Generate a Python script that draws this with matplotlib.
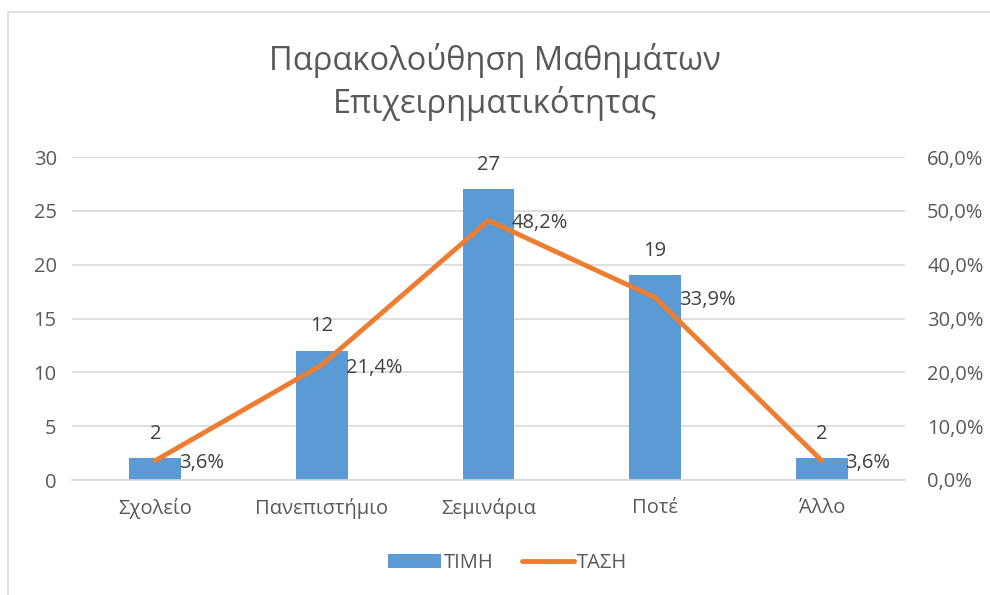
import numpy as np
import matplotlib.pyplot as plt
from matplotlib.patches import Rectangle

plt.rcParams['font.family'] = ['Open Sans', 'DejaVu Sans']

# Data
categories = ['Σχολείο', 'Πανεπιστήμιο', 'Σεμινάρια', 'Ποτέ', 'Άλλο']
values = [2, 12, 27, 19, 2]
shares = [0.036, 0.214, 0.482, 0.339, 0.036]

text_col = '#595959'
grid_col = '#D9D9D9'
bar_col = '#5B9BD5'
line_col = '#ED7D31'
fs = 14.5

fig = plt.figure(figsize=(9.9, 5.95), dpi=100)
fig.patches.append(Rectangle((8 / 990, -0.1), 1.1, 1 - 12 / 595 + 0.1,
                             transform=fig.transFigure, fill=False,
                             edgecolor=grid_col, linewidth=1.2))

ax = fig.add_axes([72 / 990, 1 - 480 / 595, (905 - 72) / 990, (480 - 157) / 595])
ax2 = ax.twinx()

x = np.arange(len(categories))
bars = ax.bar(x, values, width=0.31, color=bar_col, zorder=2, label='ΤΙΜΗ')
ax.set_xlim(-0.5, len(categories) - 0.5)
ax.set_ylim(0, 30)
ax.set_yticks(range(0, 31, 5))
ax.grid(axis='y', color=grid_col, linewidth=1.2, zorder=0)
ax.set_axisbelow(True)
ax.set_xticks(x)
ax.set_xticklabels(categories)
for s in ax.spines.values():
    s.set_visible(False)
ax.spines['bottom'].set_visible(True)
ax.spines['bottom'].set_color(grid_col)
ax.spines['bottom'].set_linewidth(1.2)
ax.tick_params(axis='both', length=0, colors=text_col, labelsize=fs)
ax.tick_params(axis='x', pad=13)
ax.tick_params(axis='y', pad=11)

for xi, v in zip(x, values):
    ax.annotate(str(v), (xi, v), xytext=(0, 10.5), textcoords='offset points',
                ha='center', va='bottom', fontsize=fs, color='#404040')

ln, = ax2.plot(x, shares, color=line_col, linewidth=3.5,
               solid_capstyle='round', label='ΤΑΣΗ', zorder=3)
ax2.set_ylim(0, 0.6)
ax2.set_yticks(np.arange(0, 0.61, 0.1))
ax2.set_yticklabels([f'{t * 100:.1f}%'.replace('.', ',') for t in np.arange(0, 0.61, 0.1)])
for s in ax2.spines.values():
    s.set_visible(False)
ax2.tick_params(axis='y', length=0, colors=text_col, labelsize=fs, pad=16)

for xi, v in zip(x, shares):
    ax2.annotate(f'{v * 100:.1f}%'.replace('.', ','), (xi, v), xytext=(17, -2),
                 textcoords='offset points', ha='left', va='center',
                 fontsize=fs, color='#404040')

fig.text(0.5, 1 - 82 / 595, 'Παρακολούθηση Μαθημάτων\nΕπιχειρηματικότητας',
         ha='center', va='center', fontsize=23.5, color=text_col, linespacing=1.3)

fig.legend([bars, ln], ['ΤΙΜΗ', 'ΤΑΣΗ'], loc='center', ncol=2,
           bbox_to_anchor=(0.513, 1 - 563 / 595), frameon=False,
           fontsize=fs, labelcolor=text_col, handlelength=2.6,
           handleheight=0.7, columnspacing=1.4, handletextpad=0.15)

fig.savefig('out.png', dpi=100)
